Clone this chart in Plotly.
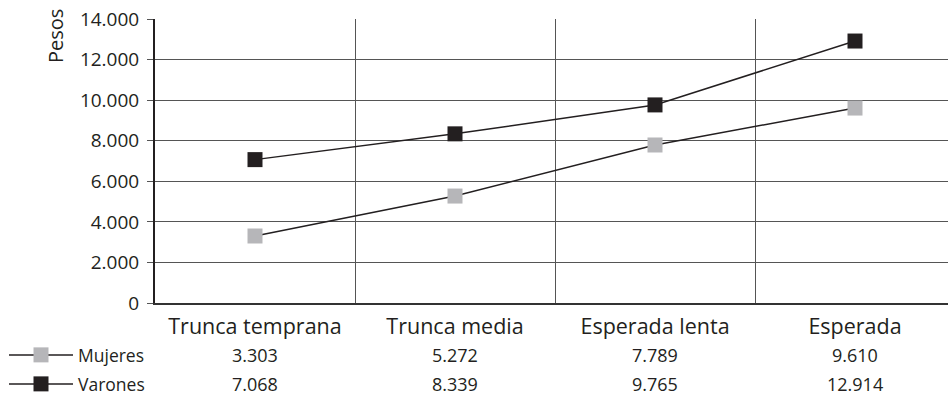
import plotly.graph_objects as go

categories = ["Trunca temprana", "Trunca media", "Esperada lenta", "Esperada"]
mujeres = [3303, 5272, 7789, 9610]
varones = [7068, 8339, 9765, 12914]
series_names = ["Mujeres", "Varones"]
y_ticks = [0, 2000, 4000, 6000, 8000, 10000, 12000, 14000]

FONT = "Open Sans"
W, H = 948, 395
ML, MT, MB = 155, 19, 92
PW = W - ML
PH = H - MT - MB

def fmt(v):
    return f"{v:,}".replace(",", ".")

fig = go.Figure()
fig.add_trace(go.Scatter(
    x=categories, y=mujeres, name=series_names[0], mode="lines+markers",
    line=dict(color="#231f20", width=1.5),
    marker=dict(symbol="square", size=15, color="#b6b6b9"),
    legend="legend", showlegend=True,
))
fig.add_trace(go.Scatter(
    x=categories, y=varones, name=series_names[1], mode="lines+markers",
    line=dict(color="#231f20", width=1.5),
    marker=dict(symbol="square", size=15, color="#231f20"),
    legend="legend2", showlegend=True,
))

# data table below the axis
row_y = [355, 384]
for vals, ry in zip([mujeres, varones], row_y):
    for c, v in zip(categories, vals):
        fig.add_annotation(x=c, xref="x", y=1 - (ry - MT) / PH, yref="paper",
                           text=fmt(v), showarrow=False,
                           font=dict(family=FONT, size=18, color="#231f20"),
                           xanchor="center", yanchor="middle")

fig.add_annotation(text="Pesos", textangle=-90, xref="paper", yref="paper",
                   x=(55 - ML) / PW, y=1 - (36 - MT) / PH, showarrow=False,
                   font=dict(family=FONT, size=20, color="#231f20"),
                   xanchor="center", yanchor="middle")

legend_common = dict(orientation="v", xanchor="left", yanchor="middle",
                     font=dict(family=FONT, size=17.5, color="#231f20"),
                     itemwidth=64, bgcolor="rgba(0,0,0,0)", borderwidth=0,
                     x=(4 - ML) / PW, visible=True)
fig.update_layout(
    width=W, height=H,
    margin=dict(l=ML, r=0, t=MT, b=MB, autoexpand=False),
    paper_bgcolor="white", plot_bgcolor="white",
    separators=",.",
    showlegend=True,
    font=dict(family=FONT, color="#231f20"),
    legend=dict(**legend_common, y=1 - (355 - MT) / PH),
    legend2=dict(**legend_common, y=1 - (384 - MT) / PH),
    xaxis=dict(
        type="category", range=[-0.5, -0.5 + PW / 200.0],
        tickson="boundaries", showgrid=True, gridcolor="#555555", gridwidth=1,
        ticks="", showline=True, linecolor="#333333", linewidth=2,
        tickfont=dict(family=FONT, size=21.5, color="#231f20"),
        ticklabelstandoff=3, zeroline=False, automargin=False,
    ),
    yaxis=dict(
        range=[0, 14000], tickvals=y_ticks, tickformat=",d",
        showgrid=True, gridcolor="#555555", gridwidth=1,
        showline=True, linecolor="#231f20", linewidth=2,
        ticks="outside", ticklen=6, tickcolor="#555555",
        tickfont=dict(family=FONT, size=19, color="#231f20"),
        zeroline=False, ticklabelstandoff=4, automargin=False,
    ),
)

fig.write_html("out.html")
